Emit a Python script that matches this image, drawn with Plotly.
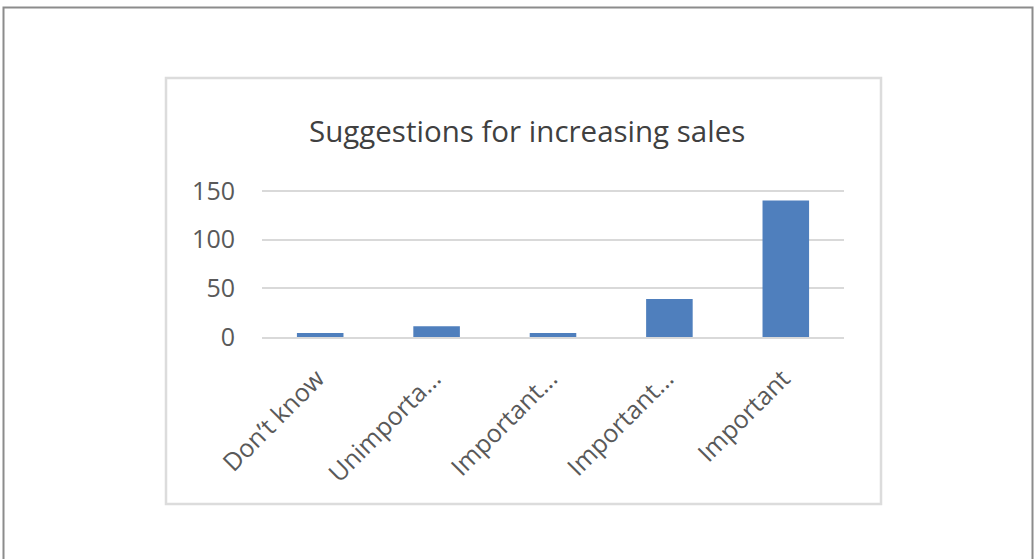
import plotly.graph_objects as go

categories = ["Don’t know", "Unimporta...", "Important...", "Important...", "Important"]
responses = [4, 11, 4, 39, 140]
y_ticks = [0, 50, 100, 150]

W, H = 1035, 559
PL, PR, PT, PB = 262, 844, 186, 337  # plot area in pixels (top a bit above the 150 line)


def px_x(v):
    return (v - PL) / (PR - PL)


def px_y(v):
    return (PB - v) / (PB - PT)


fig = go.Figure(go.Bar(
    x=list(range(len(categories))),
    y=responses,
    marker_color="#4f7fbd",
    marker_line_width=0,
    width=0.4,
))

fig.update_layout(
    width=W, height=H,
    margin=dict(l=PL, r=W - PR, t=PT, b=H - PB, pad=0),
    paper_bgcolor="white",
    plot_bgcolor="white",
    showlegend=False,
    font=dict(family="Open Sans", color="#595959"),
    shapes=[
        dict(type="rect", xref="paper", yref="paper",
             x0=px_x(3.5), x1=px_x(1032.5), y0=px_y(7.5), y1=px_y(580),
             line=dict(color="#8c8c8c", width=2), layer="below"),
        dict(type="rect", xref="paper", yref="paper",
             x0=px_x(166), x1=px_x(881), y0=px_y(78), y1=px_y(504),
             line=dict(color="#dcdcdc", width=2.5), layer="below"),
    ],
    annotations=[
        dict(text="Suggestions for increasing sales", xref="paper", yref="paper",
             x=px_x(527), y=px_y(130), xanchor="center", yanchor="middle",
             showarrow=False,
             font=dict(size=29.5, color="#404040", family="Open Sans")),
    ],
)

fig.update_xaxes(
    tickmode="array",
    tickvals=list(range(len(categories))),
    ticktext=categories,
    range=[-0.5, len(categories) - 0.5],
    tickangle=-45,
    tickfont=dict(size=25, color="#595959"),
    showgrid=False,
    showline=True, linecolor="#d9d9d9", linewidth=2,
    ticks="",
    ticklabelstandoff=15,
    ticklabelshift=-3,
)
fig.update_yaxes(
    range=[0, 155],
    tickvals=y_ticks,
    tickfont=dict(size=25, color="#595959"),
    showgrid=True, gridcolor="#d9d9d9", gridwidth=2,
    zeroline=False,
    ticklabelstandoff=26,
)

fig.write_html("out.html", config={"displayModeBar": False},
               post_script="document.body.style.margin='0';")
